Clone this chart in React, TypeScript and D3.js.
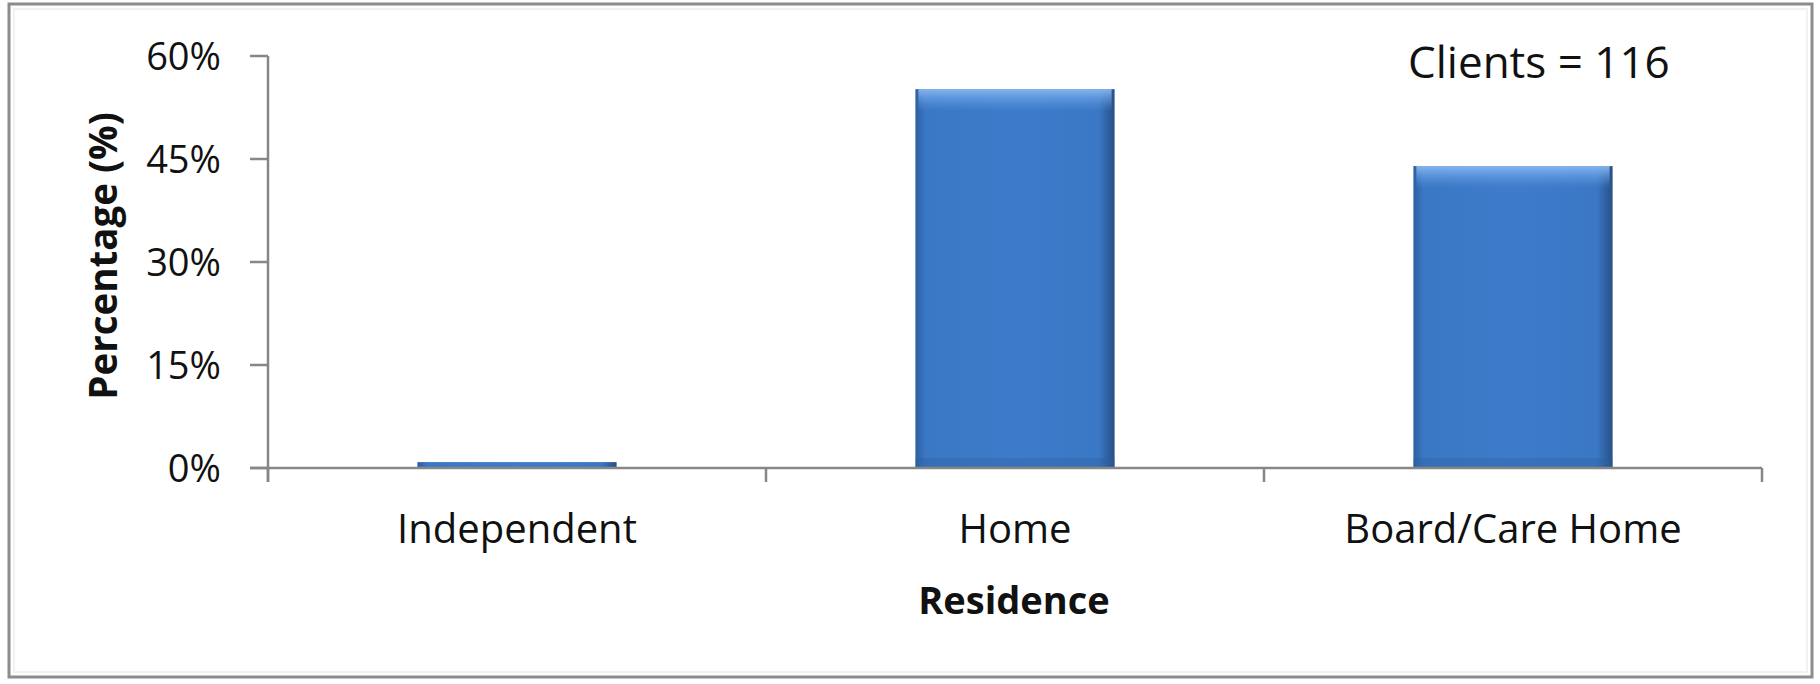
import React from "react";
import * as d3 from "d3";

const categories = ["Independent", "Home", "Board/Care Home"];
const values = [0.86, 55.17, 43.97];
const yTicks = [0, 15, 30, 45, 60];
const yTickLabels = ["0%", "15%", "30%", "45%", "60%"];
const annotation = "Clients = 116";
const xTitle = "Residence";
const yTitle = "Percentage (%)";

const W = 1820;
const H = 684;
const FONT = "'Open Sans', sans-serif";

export default function App() {
  const x = d3
    .scaleBand<string>()
    .domain(categories)
    .range([268, 1762])
    .paddingInner(0.6)
    .paddingOuter(0.3);
  const y = d3.scaleLinear().domain([0, 60]).range([468, 56]);
  const step = x.step();
  const bounds = categories.map((c) => (x(c) as number) - (step * 0.6) / 2);
  bounds.push(bounds[bounds.length - 1] + step);
  const axisColor = "#878787";

  return (
    <svg
      width={W}
      height={H}
      style={{ position: "fixed", left: 0, top: 0, background: "#fff" }}
      fontFamily={FONT}
    >
      <defs>
        <linearGradient id="barH" x1="0" x2="1" y1="0" y2="0">
          <stop offset="0" stopColor="#2d5f9e" />
          <stop offset="0.05" stopColor="#3a77c4" />
          <stop offset="0.5" stopColor="#3e7ccb" />
          <stop offset="0.92" stopColor="#3a78c6" />
          <stop offset="1" stopColor="#284f85" />
        </linearGradient>
        <linearGradient id="barTop" x1="0" x2="0" y1="0" y2="1">
          <stop offset="0" stopColor="#8ab8f0" stopOpacity="0.95" />
          <stop offset="1" stopColor="#5d9be6" stopOpacity="0" />
        </linearGradient>
      </defs>
      <rect x={0} y={0} width={W} height={H} fill="#fff" />
      <rect x={9} y={4} width={1803} height={673} fill="none" stroke="#8c8c8c" strokeWidth={3} />
      <rect x={14} y={9} width={1793} height={663} fill="none" stroke="#eeeeee" strokeWidth={1.5} />

      {/* bars */}
      {categories.map((c, i) => {
        const bx = x(c) as number;
        const bw = x.bandwidth();
        const top = y(values[i]);
        const h = y(0) - top;
        return (
          <g key={c}>
            <rect x={bx} y={top} width={bw} height={h} fill="url(#barH)" />
            {h > 20 && (
              <rect x={bx + 3} y={top} width={bw - 6} height={Math.min(22, h)} fill="url(#barTop)" />
            )}
            {h > 20 && (
              <rect x={bx} y={y(0) - 10} width={bw} height={10} fill="#2d5f9e" opacity={0.35} />
            )}
          </g>
        );
      })}

      {/* y axis */}
      <line x1={268} x2={268} y1={y(60)} y2={y(0) + 14} stroke={axisColor} strokeWidth={2.5} />
      {yTicks.map((t, i) => (
        <g key={t}>
          <line x1={250} x2={268} y1={y(t)} y2={y(t)} stroke={axisColor} strokeWidth={2.5} />
          <text x={221} y={y(t) + 14} textAnchor="end" fontSize={38} fill="#111">
            {yTickLabels[i]}
          </text>
        </g>
      ))}

      {/* x axis */}
      <line x1={250} x2={1762} y1={y(0)} y2={y(0)} stroke={axisColor} strokeWidth={2.5} />
      {bounds.map((b, i) => (
        <line key={i} x1={b} x2={b} y1={y(0)} y2={y(0) + 14} stroke={axisColor} strokeWidth={2.5} />
      ))}
      {categories.map((c) => (
        <text
          key={c}
          x={(x(c) as number) + x.bandwidth() / 2}
          y={543}
          textAnchor="middle"
          fontSize={40}
          fill="#111"
        >
          {c}
        </text>
      ))}

      <text x={1014} y={614} textAnchor="middle" fontSize={38} fontWeight="bold" fill="#111">
        {xTitle}
      </text>
      <text
        transform="translate(117,256) rotate(-90)"
        textAnchor="middle"
        fontSize={38.5}
        fontWeight="bold"
        fill="#111"
      >
        {yTitle}
      </text>
      <text x={1408} y={78} textAnchor="start" fontSize={44} fill="#111">
        {annotation}
      </text>
    </svg>
  );
}
